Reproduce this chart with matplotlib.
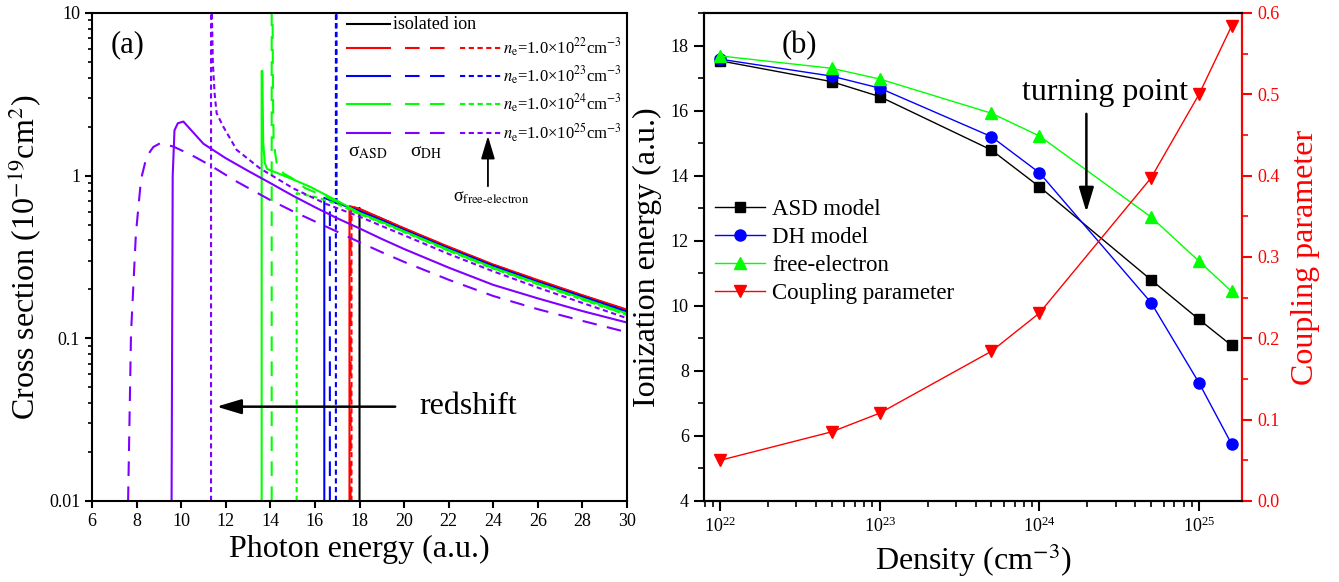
import numpy as np
import matplotlib
matplotlib.use("Agg")
import matplotlib.pyplot as plt
from matplotlib.ticker import MultipleLocator, LogLocator, FuncFormatter, NullFormatter, LogFormatterMathtext

plt.rcParams["font.family"] = ["Liberation Serif", "DejaVu Serif"]
plt.rcParams["mathtext.fontset"] = "stix"

# ── (a) cross sections, photon energy (a.u.) vs 1e-19 cm^2 ──
tail_x = [18, 19, 20, 22, 24, 26, 28, 30]

iso_x = [18.0, 18.0] + tail_x
iso_y = [0.01, 0.63, 0.62, 0.54, 0.47, 0.36, 0.28, 0.225, 0.182, 0.148]

red_asd_x = [17.55, 17.55, 18] + tail_x[1:]
red_asd_y = [0.01, 0.65, 0.625, 0.545, 0.475, 0.365, 0.284, 0.228, 0.184, 0.150]
red_dh_x = [17.60, 17.60, 18] + tail_x[1:]
red_dh_y = [0.01, 0.65, 0.622, 0.543, 0.473, 0.363, 0.283, 0.227, 0.183, 0.149]
red_fe_x = [17.64, 17.64, 18] + tail_x[1:]
red_fe_y = [0.01, 0.65, 0.62, 0.542, 0.472, 0.362, 0.282, 0.226, 0.183, 0.149]

blue_asd_x = [16.42, 16.42, 17.0] + tail_x
blue_asd_y = [0.01, 0.73, 0.68, 0.605, 0.53, 0.463, 0.356, 0.278, 0.222, 0.180, 0.146]
blue_dh_x = [16.67, 16.67, 17.0] + tail_x
blue_dh_y = [0.01, 0.71, 0.675, 0.60, 0.528, 0.461, 0.354, 0.277, 0.221, 0.179, 0.145]
blue_fe_x = [16.94, 16.94, 16.97, 16.97] + tail_x
blue_fe_y = [0.01, 10.0, 10.0, 0.69, 0.60, 0.53, 0.462, 0.356, 0.278, 0.222, 0.180, 0.146]

green_asd_x = [13.61, 13.61, 13.64, 13.68, 13.75, 13.85, 14.3, 15.0, 15.78, 17.0] + tail_x
green_asd_y = [0.01, 4.4, 4.4, 1.6, 1.2, 1.1, 1.04, 0.95, 0.855, 0.70,
               0.59, 0.52, 0.455, 0.35, 0.272, 0.218, 0.176, 0.142]
green_dh_x = [14.06, 14.06, 14.1, 14.12, 14.15, 14.3, 14.6, 15.0, 15.55, 17.0] + tail_x
green_dh_y = [0.01, 10.0, 10.0, 3.0, 1.6, 1.15, 1.03, 0.96, 0.84, 0.69,
              0.585, 0.516, 0.452, 0.347, 0.27, 0.216, 0.174, 0.140]
green_fe_x = [15.18, 15.18, 16.0, 17.0] + tail_x
green_fe_y = [0.01, 0.78, 0.74, 0.67, 0.58, 0.512, 0.45, 0.345, 0.268, 0.215, 0.173, 0.139]

purple_asd_x = [9.57, 9.62, 9.7, 9.85, 10.1, 10.5, 11.0, 12.0, 13.0, 14.0, 15.0, 16.0, 17.0] + tail_x
purple_asd_y = [0.01, 1.0, 1.9, 2.1, 2.15, 1.87, 1.57, 1.28, 1.07, 0.90, 0.754, 0.64, 0.547,
                0.474, 0.408, 0.354, 0.272, 0.213, 0.176, 0.147, 0.125]
purple_dh_x = [7.62, 7.75, 7.97, 8.2, 8.45, 8.75, 9.05, 9.65, 10.5, 11.29, 12.5, 13.98, 15.0, 16.52] + tail_x
purple_dh_y = [0.01, 0.107, 0.44, 0.95, 1.31, 1.5, 1.58, 1.51, 1.33, 1.16, 0.918, 0.71, 0.605, 0.485,
               0.39, 0.338, 0.295, 0.229, 0.182, 0.151, 0.128, 0.109]
purple_fe_x = [11.34, 11.34, 11.38, 11.42, 11.5, 11.59, 11.89, 12.49, 13.53, 15.03, 16.5] + tail_x
purple_fe_y = [0.01, 10.0, 10.0, 5.0, 3.2, 2.42, 2.0, 1.44, 1.11, 0.835, 0.67,
               0.56, 0.49, 0.43, 0.33, 0.258, 0.205, 0.165, 0.133]

# ── (b) ionization energy vs density ──
density = [1e22, 5e22, 1e23, 5e23, 1e24, 5e24, 1e25, 1.6e25]
ip_asd = [17.53, 16.89, 16.43, 14.79, 13.66, 10.80, 9.58, 8.78]
ip_dh = [17.58, 17.06, 16.69, 15.20, 14.09, 10.10, 7.63, 5.75]
ip_free = [17.68, 17.30, 16.97, 15.92, 15.22, 12.73, 11.37, 10.44]
coupling = [0.050, 0.085, 0.108, 0.184, 0.231, 0.397, 0.500, 0.584]

RED = "#ff0000"
BLUE = "#0000ff"
GREEN = "#00ff00"
PURPLE = "#8000ff"
DASH = (0, (7, 5))
DOT = (0, (2.5, 1.7))

fig = plt.figure(figsize=(13.39, 5.82), dpi=100)
ax = fig.add_axes([0.0687, 0.1392, 0.3996, 0.8385])
axb = fig.add_axes([0.5258, 0.1392, 0.4018, 0.8385])

lw = 1.5
ax.plot(iso_x, iso_y, color="k", lw=lw)
for xs, ys, ls, c in [
    (red_asd_x, red_asd_y, "-", RED), (red_dh_x, red_dh_y, DASH, RED), (red_fe_x, red_fe_y, DOT, RED),
    (blue_asd_x, blue_asd_y, "-", BLUE), (blue_dh_x, blue_dh_y, DASH, BLUE), (blue_fe_x, blue_fe_y, DOT, BLUE),
    (green_asd_x, green_asd_y, "-", GREEN), (green_dh_x, green_dh_y, DASH, GREEN), (green_fe_x, green_fe_y, DOT, GREEN),
    (purple_asd_x, purple_asd_y, "-", PURPLE), (purple_dh_x, purple_dh_y, DASH, PURPLE),
    (purple_fe_x, purple_fe_y, DOT, PURPLE),
]:
    ax.plot(xs, ys, color=c, lw=lw, linestyle=ls)

ax.set_yscale("log")
ax.set_xlim(6, 30)
ax.set_ylim(0.01, 10)
ax.xaxis.set_major_locator(MultipleLocator(2))
ax.yaxis.set_major_locator(LogLocator(base=10))
ax.yaxis.set_minor_locator(LogLocator(base=10, subs=np.arange(2, 10)))
ax.yaxis.set_major_formatter(FuncFormatter(lambda v, p: "%g" % v))
ax.yaxis.set_minor_formatter(NullFormatter())
ax.tick_params(which="major", length=5, width=1.5, labelsize=13, direction="out")
ax.tick_params(which="minor", length=3, width=1.2, direction="out")
for s in ax.spines.values():
    s.set_linewidth(1.5)
ax.set_xlabel("Photon energy (a.u.)", fontsize=23, labelpad=4)
ax.set_ylabel("Cross section (10$^{-19}$cm$^{2}$)", fontsize=23, labelpad=4)
ax.text(0.035, 0.934, "(a)", transform=ax.transAxes, fontsize=22, va="center")

# legend drawn by hand (three line styles per density)
rows = [0.929, 0.871, 0.814, 0.755]
cols = [RED, BLUE, GREEN, PURPLE]
exps = ["22", "23", "24", "25"]
ax.plot([0.477, 0.557], [0.977, 0.977], color="k", lw=lw, transform=ax.transAxes)
ax.text(0.563, 0.977, "isolated ion", transform=ax.transAxes, fontsize=13, va="center")
for yy, c, e in zip(rows, cols, exps):
    ax.plot([0.477, 0.557], [yy, yy], color=c, lw=lw, transform=ax.transAxes)
    ax.plot([0.585, 0.660], [yy, yy], color=c, lw=lw, ls=DASH, transform=ax.transAxes)
    ax.plot([0.688, 0.766], [yy, yy], color=c, lw=lw, ls=DOT, transform=ax.transAxes)
    ax.text(0.768, yy, r"$n_\mathrm{e}$=1.0×10$^{%s}$cm$^{-3}$" % e, transform=ax.transAxes,
            fontsize=12, va="center")
ax.text(0.478, 0.715, r"σ$_\mathrm{ASD}$", transform=ax.transAxes, fontsize=14, va="center")
ax.text(0.594, 0.715, r"σ$_\mathrm{DH}$", transform=ax.transAxes, fontsize=14, va="center")
ax.text(0.675, 0.621, r"σ$_\mathrm{free\text{-}electron}$", transform=ax.transAxes, fontsize=13, va="center")
ax.annotate("", xy=(0.740, 0.748), xytext=(0.740, 0.645), xycoords="axes fraction",
            arrowprops=dict(arrowstyle="-|>,head_length=1.0,head_width=0.3", color="k", lw=1.3,
                            mutation_scale=14, shrinkA=0, shrinkB=0))
ax.annotate("", xy=(11.59, 0.038), xytext=(19.6, 0.038),
            arrowprops=dict(arrowstyle="-|>,head_length=1.0,head_width=0.3", color="k", lw=1.8,
                            mutation_scale=15, shrinkA=0, shrinkB=0))
ax.text(20.7, 0.038, "redshift", fontsize=23, va="center")

# ── (b) ──
axr = axb.twinx()
axb.plot(density, ip_asd, color="k", marker="s", ms=7, lw=1.0, label="ASD model")
axb.plot(density, ip_dh, color=BLUE, marker="o", ms=8, lw=1.0, label="DH model")
axb.plot(density, ip_free, color=GREEN, marker="^", ms=8, lw=1.0, label="free-electron")
axr.plot(density, coupling, color=RED, marker="v", ms=8, lw=1.0, label="Coupling parameter")

axb.set_xscale("log")
axb.set_xlim(7.94e21, 1.86e25)
axb.set_ylim(4, 19)
axr.set_ylim(0, 0.6)
axb.xaxis.set_major_locator(LogLocator(base=10))
axb.xaxis.set_minor_locator(LogLocator(base=10, subs=np.arange(2, 10)))
axb.xaxis.set_major_formatter(LogFormatterMathtext())
axb.xaxis.set_minor_formatter(NullFormatter())
axb.yaxis.set_major_locator(MultipleLocator(2))
axb.yaxis.set_minor_locator(MultipleLocator(1))
axr.yaxis.set_major_locator(MultipleLocator(0.1))
axr.yaxis.set_minor_locator(MultipleLocator(0.05))
axr.yaxis.set_major_formatter(FuncFormatter(lambda v, p: "%.1f" % v))
axb.tick_params(which="major", length=7.5, width=1.5, labelsize=13, direction="out")
axb.tick_params(which="minor", length=4.5, width=1.2, direction="out")
axr.tick_params(which="major", length=7.5, width=1.5, labelsize=13, direction="out", colors=RED)
axr.tick_params(which="minor", length=4.5, width=1.2, direction="out", colors=RED)
for s in axb.spines.values():
    s.set_linewidth(1.5)
for s in axr.spines.values():
    s.set_linewidth(1.5)
axr.spines["right"].set_color(RED)
axb.set_xlabel("Density (cm$^{-3}$)", fontsize=23, labelpad=4)
axb.set_ylabel("Ionization energy (a.u.)", fontsize=23, labelpad=6)
axr.set_ylabel("Coupling parameter", fontsize=23, color=RED, labelpad=8)
axb.text(0.145, 0.934, "(b)", transform=axb.transAxes, fontsize=22, va="center")

h1, l1 = axb.get_legend_handles_labels()
h2, l2 = axr.get_legend_handles_labels()
axb.legend(h1 + h2, l1 + l2, loc="center left", bbox_to_anchor=(0.02, 0.512), frameon=False,
           fontsize=16.5, handlelength=2.2, handletextpad=0.3, labelspacing=0.3,
           borderpad=0, borderaxespad=0)

axb.annotate("", xy=(1.97e24, 12.88), xytext=(1.97e24, 15.9),
             arrowprops=dict(arrowstyle="-|>,head_length=1.0,head_width=0.3", color="k", lw=1.8,
                             mutation_scale=15, shrinkA=0, shrinkB=0))
axb.text(2.57e24, 16.55, "turning point", fontsize=23, ha="center", va="center")

fig.savefig("out.png", dpi=100)
